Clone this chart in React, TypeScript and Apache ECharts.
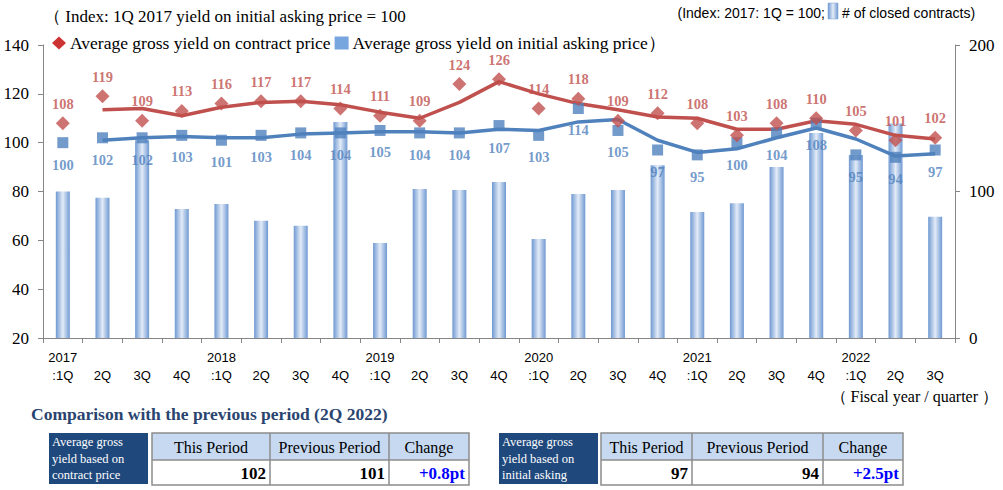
import React, { useEffect, useRef } from "react";
import * as echarts from "echarts";

const categories = [
  "2017\n:1Q", "\n2Q", "\n3Q", "\n4Q",
  "2018\n:1Q", "\n2Q", "\n3Q", "\n4Q",
  "2019\n:1Q", "\n2Q", "\n3Q", "\n4Q",
  "2020\n:1Q", "\n2Q", "\n3Q", "\n4Q",
  "2021\n:1Q", "\n2Q", "\n3Q", "\n4Q",
  "2022\n:1Q", "\n2Q", "\n3Q",
];

// Contract price yield index (markers)
const contractYield = [108, 119, 109, 113, 116, 117, 117, 114, 111, 109, 124, 126, 114, 118, 109, 112, 108, 103, 108, 110, 105, 101, 102];
// Initial asking price yield index (markers)
const askingYield = [100, 102, 102, 103, 101, 103, 104, 104, 105, 104, 104, 107, 103, 114, 105, 97, 95, 100, 104, 108, 95, 94, 97];
// Trend lines
const contractTrend: (number | string)[] = ["-", 113.5, 114, 111, 114.5, 116.5, 117, 115.5, 112.5, 110, 116.5, 125, 120, 116, 113.5, 110.5, 110, 105.5, 105.5, 109, 107.5, 103, 101.5];
const askingTrend: (number | string)[] = ["-", 101, 102, 102.5, 102, 102, 103.5, 104, 104.5, 104.5, 104, 105.5, 105, 108.5, 109.5, 101, 96, 97.5, 102, 106, 101.5, 94.5, 95.5];
// Number of closed contracts (index, right axis)
const contracts = [100, 95.8, 135, 88, 91.5, 80, 76.7, 147.4, 64.8, 101.7, 101, 106.5, 67.6, 98.3, 101, 118, 86, 92, 116.7, 140, 125, 146.5, 82.8];

const leftTicks = { min: 20, max: 140, interval: 20 };
const rightTicks = { min: 0, max: 200, interval: 100 };

const tableHeaders = ["This Period", "Previous Period", "Change"];
const contractTable = ["102", "101", "+0.8pt"];
const askingTable = ["97", "94", "+2.5pt"];

const RED = "#C0504D";
const BLUE = "#4F81BD";
const NAVY = "#1F497D";
const SERIF = "'Liberation Serif', 'Times New Roman', serif";
const SANS = "'Liberation Sans', Arial, sans-serif";

const barGradient = () =>
  new echarts.graphic.LinearGradient(0, 0, 1, 0, [
    { offset: 0, color: "#6f99d2" },
    { offset: 0.5, color: "#e3ebf7" },
    { offset: 1, color: "#6f99d2" },
  ]);

function txt(text: string, x: number, y: number, font: string, fill: string, align = "left", vAlign = "middle", z = 10) {
  return {
    type: "text",
    z,
    style: { text, x, y, font, fill, align, verticalAlign: vAlign, textAlign: align, textVerticalAlign: vAlign },
  };
}

function table(x0: number, labelLines: string[], cols: number[], values: string[]) {
  const els: any[] = [];
  const top = 433, mid = 460, bot = 485;
  els.push({ type: "rect", shape: { x: x0, y: top, width: 99, height: 51 }, style: { fill: NAVY } });
  labelLines.forEach((l, i) => {
    els.push(txt(l, x0 + 3, 442 + i * 16.5, `12.5px ${SERIF}`, "#ffffff"));
  });
  const left = cols[0];
  const right = cols[cols.length - 1];
  els.push({ type: "rect", shape: { x: left, y: top, width: right - left, height: mid - top }, style: { fill: "#C6D9F1" } });
  els.push({ type: "rect", shape: { x: left, y: top, width: right - left, height: bot - top }, style: { fill: "none", stroke: "#8c8c8c", lineWidth: 1.5 } });
  els.push({ type: "line", shape: { x1: left, y1: mid, x2: right, y2: mid }, style: { stroke: "#8c8c8c", lineWidth: 1.5 } });
  for (let i = 1; i < cols.length - 1; i++) {
    els.push({ type: "line", shape: { x1: cols[i], y1: top, x2: cols[i], y2: bot }, style: { stroke: "#8c8c8c", lineWidth: 1.5 } });
  }
  for (let i = 0; i < 3; i++) {
    els.push(txt(tableHeaders[i], (cols[i] + cols[i + 1]) / 2, 447, `16px ${SERIF}`, "#000000", "center"));
    els.push(txt(values[i], cols[i + 1] - 4, 473, `bold 17px ${SERIF}`, i === 2 ? "#0000ff" : "#000000", "right"));
  }
  return els;
}

export default function App() {
  const ref = useRef<HTMLDivElement>(null);
  useEffect(() => {
    document.body.style.margin = "0";
    const chart = echarts.init(ref.current!, null, { renderer: "svg" });
    const labelBase = { show: true, fontFamily: SERIF, fontWeight: "bold", fontSize: 14.5 };
    const option: any = {
      animation: false,
      backgroundColor: "#ffffff",
      textStyle: { fontFamily: SERIF },
      grid: { left: 43, right: 48, top: 45, bottom: 152, containLabel: false },
      legend: {
        left: 47,
        top: 29,
        itemGap: 4,
        itemWidth: 14,
        itemHeight: 13,
        textStyle: { fontFamily: SERIF, fontSize: 17.5, color: "#000", padding: [0, 0, 0, -1] },
        data: [
          { name: "Average gross yield on contract price", icon: "diamond", itemStyle: { color: "#C00000" } },
          { name: "Average gross yield on initial asking price）", icon: "rect", itemStyle: { color: "#558ED5" } },
        ],
      },
      xAxis: {
        type: "category",
        data: categories,
        axisLine: { lineStyle: { color: "#868686", width: 1 } },
        axisTick: { show: true, length: 5, lineStyle: { color: "#868686" } },
        axisLabel: { fontFamily: SANS, fontSize: 13, color: "#000", lineHeight: 18, margin: 10, interval: 0 },
      },
      yAxis: [
        {
          type: "value",
          ...leftTicks,
          splitLine: { show: false },
          axisLine: { show: true, lineStyle: { color: "#868686" } },
          axisTick: { show: true, length: 5, lineStyle: { color: "#868686" } },
          axisLabel: { fontFamily: SERIF, fontSize: 17, color: "#000", margin: 14 },
        },
        {
          type: "value",
          ...rightTicks,
          splitLine: { show: false },
          axisLine: { show: true, lineStyle: { color: "#868686" } },
          axisTick: { show: true, length: 5, lineStyle: { color: "#868686" } },
          axisLabel: { fontFamily: SERIF, fontSize: 17, color: "#000", margin: 14 },
        },
      ],
      series: [
        {
          name: "# of closed contracts",
          type: "bar",
          yAxisIndex: 1,
          data: contracts,
          barWidth: 14,
          itemStyle: { color: barGradient() },
          z: 1,
        },
        {
          name: "askingTrend",
          type: "line",
          data: askingTrend,
          showSymbol: false,
          symbol: "none",
          lineStyle: { color: BLUE, width: 3.5 },
          z: 2,
        },
        {
          name: "contractTrend",
          type: "line",
          data: contractTrend,
          showSymbol: false,
          symbol: "none",
          lineStyle: { color: RED, width: 3.5 },
          z: 3,
        },
        {
          name: "Average gross yield on initial asking price）",
          type: "scatter",
          data: askingYield,
          symbol: "rect",
          symbolSize: 11,
          itemStyle: { color: BLUE },
          label: { ...labelBase, position: "bottom", distance: 9, color: BLUE },
          z: 5,
        },
        {
          name: "Average gross yield on contract price",
          type: "scatter",
          data: contractYield,
          symbol: "diamond",
          symbolSize: 14,
          itemStyle: { color: RED },
          label: { ...labelBase, position: "top", distance: 5, color: RED },
          z: 6,
        },
      ],
      graphic: [
        txt("（ Index: 1Q 2017 yield on initial asking price = 100", 44, 16, `17px ${SERIF}`, "#000"),
        txt("(Index: 2017: 1Q = 100;", 825, 13, `14px ${SANS}`, "#000", "right"),
        { type: "rect", shape: { x: 828, y: 3, width: 10, height: 16 }, style: { fill: barGradient(), stroke: "#7fa3d6", lineWidth: 0.5 } },
        txt("# of closed contracts)", 842, 13, `14px ${SANS}`, "#000"),
        txt("（ Fiscal year / quarter ）", 998, 396, `16px ${SERIF}`, "#000", "right"),
        txt("Comparison with the previous period (2Q 2022)", 31, 414, `bold 17.5px ${SERIF}`, "#2a4470"),
        ...table(49, ["Average gross", "yield based on", "contract price"], [152, 270, 389, 469], contractTable),
        ...table(499, ["Average gross", "yield based on", "initial asking"], [601, 692, 823, 903], askingTable),
      ],
    };
    chart.setOption(option);
    return () => chart.dispose();
  }, []);
  return <div ref={ref} style={{ width: 1003, height: 490 }} />;
}
